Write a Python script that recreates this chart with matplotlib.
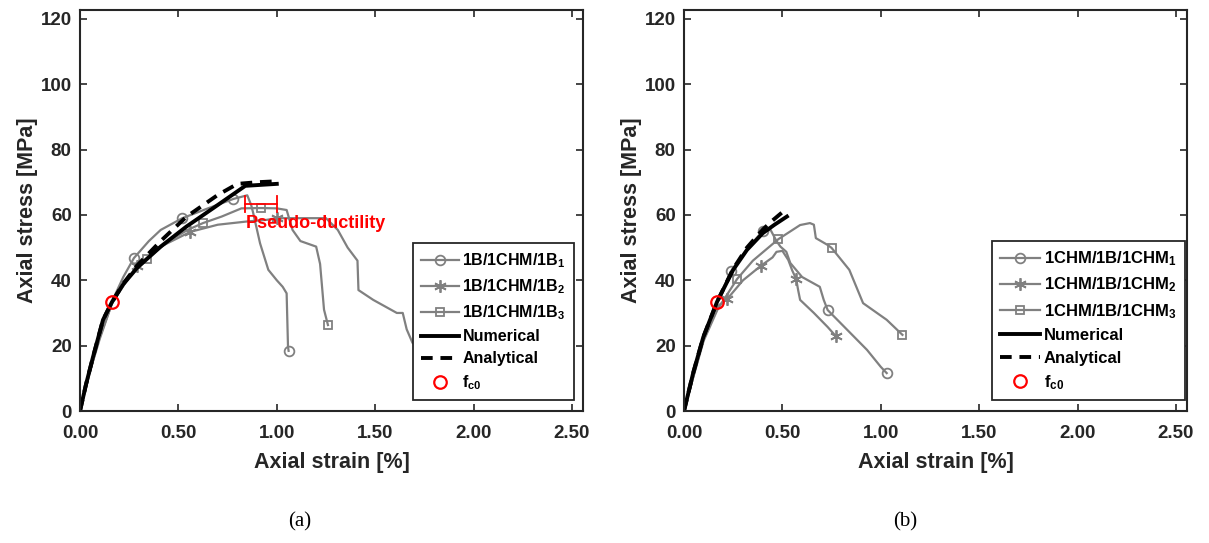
import numpy as np
import matplotlib
matplotlib.use("Agg")
from matplotlib import pyplot as plt

plt.rcParams["font.family"] = ["Liberation Sans", "DejaVu Sans"]
plt.rcParams["font.weight"] = "bold"
plt.rcParams["mathtext.fontset"] = "custom"
plt.rcParams["mathtext.bf"] = "Liberation Sans:bold"
plt.rcParams["mathtext.rm"] = "Liberation Sans:bold"
plt.rcParams["mathtext.default"] = "bf"

# ---- panel (a) data ----
a_num_x = [0, 0.03, 0.066, 0.117, 0.163, 0.22, 0.29, 0.41, 0.54, 0.68, 0.84, 0.92, 1.0]
a_num_y = [0, 8, 16.5, 27.9, 33.4, 38.8, 43.8, 50.3, 56.4, 62.2, 68.9, 69.2, 69.5]
a_ana_x = [0, 0.03, 0.066, 0.117, 0.163, 0.22, 0.29, 0.41, 0.54, 0.70, 0.80, 0.9, 1.0]
a_ana_y = [0, 8, 16.5, 27.9, 33.4, 39, 44.5, 52, 59.4, 66.1, 69.5, 70, 70.3]

a1_x = [0, 0.05, 0.1, 0.17, 0.22, 0.274, 0.35, 0.41, 0.52, 0.65, 0.78, 0.85, 0.87,
        0.88, 0.915, 0.957, 1.0, 1.03, 1.05, 1.057, 1.06]
a1_y = [0, 13, 24, 34.5, 41, 46.8, 52, 55.4, 59, 62, 64.9, 66, 63,
        60.6, 51.3, 43.2, 40, 38, 36, 19.6, 18.4]
a1_mk = [5, 8, 10, 20]

a2_x = [0, 0.05, 0.1, 0.163, 0.22, 0.29, 0.4, 0.56, 0.7, 0.85, 0.95, 1.0, 1.1, 1.25,
        1.31, 1.36, 1.41, 1.415, 1.49, 1.61, 1.64, 1.66, 1.69, 1.75, 1.85]
a2_y = [0, 12, 22.5, 33, 38.5, 44.3, 50, 54.8, 57, 58, 58.5, 59, 59, 59,
        55.4, 50, 46, 37, 34, 30, 30, 25, 20.8, 19.5, 18]
a2_mk = [5, 7, 11, 24]

a3_x = [0, 0.05, 0.1, 0.163, 0.25, 0.34, 0.45, 0.55, 0.625, 0.72, 0.82, 0.92, 1.0,
        1.05, 1.08, 1.12, 1.2, 1.22, 1.24, 1.26]
a3_y = [0, 12, 22, 33, 41, 46.5, 52, 55.5, 57.5, 59.5, 62, 62.1, 62,
        61.5, 55.4, 52, 50.3, 45, 31, 26.3]
a3_mk = [5, 8, 11, 19]

a_fc0 = (0.163, 33.4)
a_labels = [r"1B/1CHM/1B$_1$", r"1B/1CHM/1B$_2$", r"1B/1CHM/1B$_3$"]

# ---- panel (b) data ----
b_num_x = [0, 0.046, 0.098, 0.168, 0.25, 0.32, 0.40, 0.46, 0.523]
b_num_y = [0, 11.5, 22.6, 33.4, 43.2, 49.3, 54.4, 57, 59.5]
b_ana_x = [0, 0.046, 0.098, 0.168, 0.25, 0.32, 0.40, 0.45, 0.523]
b_ana_y = [0, 11.5, 22.6, 33.4, 43.5, 50, 55.5, 58.3, 62]

b1_x = [0, 0.05, 0.1, 0.168, 0.24, 0.32, 0.40, 0.44, 0.47, 0.49, 0.52, 0.54, 0.60,
        0.69, 0.71, 0.73, 0.83, 0.93, 1.0, 1.03]
b1_y = [0, 12, 23, 33.5, 42.9, 49.5, 55.1, 55.4, 52, 50.3, 48.7, 45.3, 41,
        38, 34, 30.9, 24.8, 18.7, 13.5, 11.6]
b1_mk = [4, 6, 15, 19]

b2_x = [0, 0.05, 0.1, 0.17, 0.22, 0.3, 0.39, 0.45, 0.47, 0.50, 0.53, 0.55, 0.57,
        0.58, 0.59, 0.66, 0.73, 0.77]
b2_y = [0, 11, 22, 32, 34.3, 40, 44.4, 47, 48.7, 49, 46.2, 43, 40.4,
        37, 34, 30, 25.7, 23]
b2_mk = [4, 6, 12, 17]

b3_x = [0, 0.05, 0.1, 0.17, 0.27, 0.35, 0.48, 0.59, 0.64, 0.66, 0.67, 0.73, 0.75,
        0.84, 0.91, 1.03, 1.11]
b3_y = [0, 11, 21.5, 31, 40.4, 46, 52.6, 56.9, 57.5, 57, 52.9, 50.8, 49.9,
        43.2, 33, 27.9, 23.3]
b3_mk = [4, 6, 12, 16]

b_fc0 = (0.168, 33.4)
b_labels = [r"1CHM/1B/1CHM$_1$", r"1CHM/1B/1CHM$_2$", r"1CHM/1B/1CHM$_3$"]

# pseudo-ductility bar (panel a)
pd_x = [0.84, 1.0]
pd_y = 63.4

grey = "#808080"
axc = "#262626"

fig = plt.figure(figsize=(12.09, 5.43), dpi=100)
ax1 = fig.add_axes([80 / 1209, 132 / 543, 503 / 1209, 401 / 543])
ax2 = fig.add_axes([684 / 1209, 132 / 543, 503 / 1209, 401 / 543])


def draw_panel(ax, curves, labels, num, ana, fc0, leg_x0, leg_fs):
    markers = ["o", (6, 2, 0), "s"]
    sizes = [7, 9, 6]
    for (cx, cy, mk), lab, m, ms in zip(curves, labels, markers, sizes):
        ax.plot(cx, cy, color=grey, lw=1.6, marker=m, markevery=mk, ms=ms,
                mfc="none", mec=grey, mew=1.3, label=lab)
    ax.plot(num[0], num[1], color="black", lw=2.8, label="Numerical")
    ax.plot(ana[0], ana[1], color="black", lw=2.8, ls=(0, (3, 2)), label="Analytical")
    ax.plot([fc0[0]], [fc0[1]], ls="none", marker="o", ms=9, mfc="none",
            mec="red", mew=1.6, label=r"f$_{c0}$")

    ax.set_xlim(0, 2.556)
    ax.set_ylim(0, 122.7)
    ax.set_xticks(np.arange(0, 2.51, 0.5))
    ax.set_xticklabels(["%.2f" % v for v in np.arange(0, 2.51, 0.5)])
    ax.set_yticks(np.arange(0, 121, 20))
    ax.tick_params(direction="in", top=True, right=True, length=5, width=1.2,
                   labelsize=13.5, colors=axc)
    ax.tick_params(axis="x", pad=10)
    ax.tick_params(axis="y", pad=6)
    for lab in ax.get_xticklabels() + ax.get_yticklabels():
        lab.set_fontweight("bold")
    for sp in ax.spines.values():
        sp.set_linewidth(1.5)
        sp.set_color(axc)
    ax.set_xlabel("Axial strain [%]", fontsize=15.5, fontweight="bold", color=axc, labelpad=7)
    ax.set_ylabel("Axial stress [MPa]", fontsize=15.5, fontweight="bold", color=axc, labelpad=2)

    leg = ax.legend(loc="lower left", bbox_to_anchor=(leg_x0, 0.027), fontsize=leg_fs,
                    frameon=True, fancybox=False, edgecolor=axc, framealpha=1,
                    handlelength=2.4, handletextpad=0.2, labelspacing=0.45,
                    borderpad=0.5, borderaxespad=0)
    leg.get_frame().set_linewidth(1.3)
    for t in leg.get_texts():
        t.set_fontweight("bold")


draw_panel(ax1, [(a1_x, a1_y, a1_mk), (a2_x, a2_y, a2_mk), (a3_x, a3_y, a3_mk)],
           a_labels, (a_num_x, a_num_y), (a_ana_x, a_ana_y), a_fc0, 0.662, 11.5)
draw_panel(ax2, [(b1_x, b1_y, b1_mk), (b2_x, b2_y, b2_mk), (b3_x, b3_y, b3_mk)],
           b_labels, (b_num_x, b_num_y), (b_ana_x, b_ana_y), b_fc0, 0.612, 12)

# pseudo-ductility annotation
ax1.plot(pd_x, [pd_y, pd_y], color="red", lw=1.3)
for px in pd_x:
    ax1.plot([px, px], [pd_y - 2.4, pd_y + 2.4], color="red", lw=1.3)
ax1.text(pd_x[0], pd_y - 3.3, "Pseudo-ductility", color="red", fontsize=13,
         fontweight="bold", ha="left", va="top")

fig.text(300 / 1209, 1 - 522 / 543, "(a)", family="Liberation Serif", fontweight="normal",
         fontsize=15, ha="center", va="center")
fig.text(905 / 1209, 1 - 522 / 543, "(b)", family="Liberation Serif", fontweight="normal",
         fontsize=15, ha="center", va="center")

fig.savefig("out.png", dpi=100)
